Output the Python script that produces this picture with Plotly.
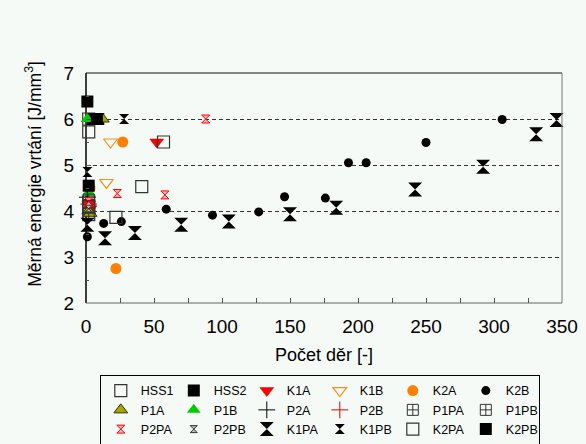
import plotly.graph_objects as go

# Specific drilling energy vs. number of holes, per tool / material combination
series_names = ["HSS1", "HSS2", "K1A", "K1B", "K2A", "K2B",
                "P1A", "P1B", "P2A", "P2B", "P1PA", "P1PB",
                "P2PA", "P2PB", "K1PA", "K1PB", "K2PA", "K2PB"]

hss1_x = [2, 2, 2, 2]
hss1_y = [6.0, 5.72, 4.2, 3.92]
hss2_x = [1, 5, 9]
hss2_y = [6.38, 6.0, 6.0]
k1a_x = [52, 2, 3]
k1a_y = [5.5, 4.15, 4.05]
k1b_x = [18, 15]
k1b_y = [5.5, 4.62]
k2a_x = [27, 22, 3]
k2a_y = [5.5, 2.75, 4.5]
k2b_x = [1, 13, 26, 59, 93, 127, 146, 176, 193, 206, 250, 306]
k2b_y = [3.44, 3.73, 3.77, 4.04, 3.91, 3.98, 4.31, 4.28, 5.05, 5.05, 5.49, 5.99]
p1a_x = [12, 2, 3]
p1a_y = [6.0, 4.0, 3.95]
p1b_x = [1, 2]
p1b_y = [6.0, 4.4]
p2a_x = [1]
p2a_y = [4.3]
p2b_x = [2]
p2b_y = [4.15]
p1pa_x = [2]
p1pa_y = [4.25]
p1pb_x = [2]
p1pb_y = [3.95]
p2pa_x = [88, 23, 58, 2]
p2pa_y = [6.0, 4.38, 4.35, 4.2]
p2pb_x = [2]
p2pb_y = [4.05]
k1pa_x = [1, 14, 36, 70, 105, 150, 184, 242, 292, 331, 346]
k1pa_y = [3.7, 3.41, 3.52, 3.7, 3.77, 3.93, 4.07, 4.47, 4.96, 5.67, 5.98]
k1pb_x = [28, 1]
k1pb_y = [6.0, 4.85]
k2pa_x = [57, 41, 22, 2]
k2pa_y = [5.5, 4.53, 3.86, 4.1]
k2pb_x = [2, 8]
k2pb_y = [4.55, 6.0]

x_ticks = [0, 50, 100, 150, 200, 250, 300, 350]
y_ticks = [2, 3, 4, 5, 6, 7]

data = {
    "HSS1": (hss1_x, hss1_y), "HSS2": (hss2_x, hss2_y), "K1A": (k1a_x, k1a_y),
    "K1B": (k1b_x, k1b_y), "K2A": (k2a_x, k2a_y), "K2B": (k2b_x, k2b_y),
    "P1A": (p1a_x, p1a_y), "P1B": (p1b_x, p1b_y), "P2A": (p2a_x, p2a_y),
    "P2B": (p2b_x, p2b_y), "P1PA": (p1pa_x, p1pa_y), "P1PB": (p1pb_x, p1pb_y),
    "P2PA": (p2pa_x, p2pa_y), "P2PB": (p2pb_x, p2pb_y), "K1PA": (k1pa_x, k1pa_y),
    "K1PB": (k1pb_x, k1pb_y), "K2PA": (k2pa_x, k2pa_y), "K2PB": (k2pb_x, k2pb_y),
}

# marker style per series: symbol, size, fill colour, outline colour, outline width
styles = {
    "HSS1": ("square-open", 12, "#333333", "#333333", 1.2),
    "HSS2": ("square", 12, "#000000", "#000000", 0),
    "K1A": ("triangle-down", 12, "#ff0000", "#cc0000", 0.5),
    "K1B": ("triangle-down-open", 12, "#ff8c1a", "#ff8c1a", 1.2),
    "K2A": ("circle", 11, "#ff8000", "#ff8000", 0),
    "K2B": ("circle", 9, "#000000", "#000000", 0),
    "P1A": ("triangle-up", 12, "#a6a600", "#333300", 1),
    "P1B": ("triangle-up", 12, "#00cc00", "#00cc00", 0),
    "P2A": ("cross-thin-open", 12, "#000000", "#000000", 1),
    "P2B": ("cross-thin-open", 12, "#e00000", "#e00000", 1),
    "P1PA": ("square-cross-open", 11, "#333333", "#333333", 1),
    "P1PB": ("square-cross-open", 11, "#333333", "#333333", 1),
    "P2PA": ("hourglass", 8, "#ffb3b3", "#ff0000", 1),
    "P2PB": ("hourglass", 7, "#bbbbbb", "#333333", 1),
    "K1PA": ("hourglass", 14, "#000000", "#000000", 0),
    "K1PB": ("hourglass", 10, "#000000", "#000000", 0),
    "K2PA": ("square-open", 12, "#333333", "#333333", 1.2),
    "K2PB": ("square", 12, "#000000", "#000000", 0),
}

BG = "#f6faf6"
FONT = "Liberation Sans, Arial, sans-serif"

fig = go.Figure()
for name in series_names:
    xs, ys = data[name]
    sym, size, fill, edge, lw = styles[name]
    fig.add_trace(go.Scatter(
        x=xs, y=ys, mode="markers", name=name, cliponaxis=False,
        marker=dict(symbol=sym, size=size, color=fill,
                    line=dict(color=edge, width=lw)),
    ))

fig.update_layout(
    width=586, height=444,
    margin=dict(l=86, r=24, t=73, b=141, autoexpand=False),
    paper_bgcolor=BG, plot_bgcolor=BG,
    font=dict(family=FONT, color="#000000"),
    showlegend=True,
    legend=dict(
        orientation="h", x=0.029, xanchor="left", y=-0.313, yanchor="top",
        entrywidth=28, entrywidthmode="pixels",
        bgcolor=BG, bordercolor="#000000", borderwidth=1,
        font=dict(size=12.5, family=FONT, color="#000000"),
        itemclick=False,
    ),
    xaxis=dict(
        range=[0, 350], tickvals=x_ticks, ticks="inside", ticklen=5,
        tickcolor="#555555", tickfont=dict(size=19), ticklabelstandoff=10,
        minor=dict(dtick=25, ticks="inside", ticklen=5, tickcolor="#555555"),
        showgrid=False, zeroline=False, showline=False,
    ),
    yaxis=dict(
        range=[2, 7], tickvals=y_ticks, ticks="inside", ticklen=5,
        tickcolor="#555555", tickfont=dict(size=19), ticklabelstandoff=11,
        minor=dict(dtick=0.5, ticks="inside", ticklen=3, tickcolor="#555555"),
        showgrid=True, gridcolor="#333333", gridwidth=1, griddash="4px,3px",
        zeroline=False, showline=False,
    ),
    annotations=[
        dict(text="Počet děr [-]", xref="paper", yref="paper",
             x=0.5, y=-0.226, xanchor="center", yanchor="middle",
             showarrow=False, font=dict(size=18)),
        dict(text="Měrná energie vrtání [J/mm<sup>3</sup>]", xref="paper", yref="paper",
             x=-0.11, y=0.56, xanchor="center", yanchor="middle", textangle=-90,
             showarrow=False, font=dict(size=17.5)),
    ],
    shapes=[
        dict(type="line", xref="paper", yref="paper", x0=0, x1=0, y0=0, y1=1,
             line=dict(color="#000000", width=1.5), layer="below"),
        dict(type="line", xref="paper", yref="paper", x0=0, x1=1, y0=1, y1=1,
             line=dict(color="#111111", width=1)),
        dict(type="line", xref="paper", yref="paper", x0=1, x1=1, y0=0, y1=1,
             line=dict(color="#777777", width=1)),
        dict(type="line", xref="paper", yref="paper", x0=0, x1=1, y0=0, y1=0,
             line=dict(color="#666666", width=1)),
    ],
)

fig.write_html("out.html")
